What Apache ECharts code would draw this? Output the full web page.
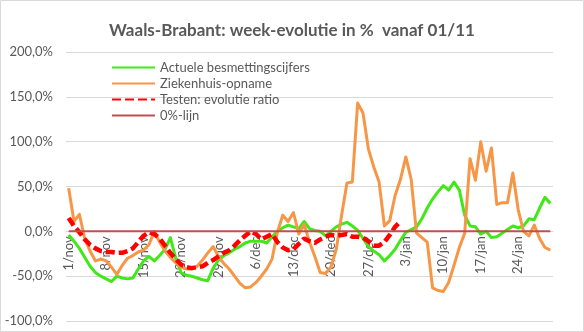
<!DOCTYPE html>
<html>
<head>
<meta charset="utf-8">
<script src="https://cdn.jsdelivr.net/npm/echarts@6/dist/echarts.min.js"></script>
<style>
html,body{margin:0;padding:0;background:#fff;}
#c{width:584px;height:332px;}
</style>
</head>
<body>
<div id="c"></div>
<script>
const categories = [
'1/nov','2/nov','3/nov','4/nov','5/nov','6/nov','7/nov','8/nov','9/nov','10/nov',
'11/nov','12/nov','13/nov','14/nov','15/nov','16/nov','17/nov','18/nov','19/nov','20/nov',
'21/nov','22/nov','23/nov','24/nov','25/nov','26/nov','27/nov','28/nov','29/nov','30/nov',
'1/dec','2/dec','3/dec','4/dec','5/dec','6/dec','7/dec','8/dec','9/dec','10/dec',
'11/dec','12/dec','13/dec','14/dec','15/dec','16/dec','17/dec','18/dec','19/dec','20/dec',
'21/dec','22/dec','23/dec','24/dec','25/dec','26/dec','27/dec','28/dec','29/dec','30/dec','31/dec',
'1/jan','2/jan','3/jan','4/jan','5/jan','6/jan','7/jan','8/jan','9/jan','10/jan',
'11/jan','12/jan','13/jan','14/jan','15/jan','16/jan','17/jan','18/jan','19/jan','20/jan',
'21/jan','22/jan','23/jan','24/jan','25/jan','26/jan','27/jan','28/jan','29/jan','30/jan'
];

const seriesNames = ['Actuele besmettingscijfers','Ziekenhuis-opname','Testen: evolutie ratio','0%-lijn'];

const besmettingen = [
-4,-11,-19,-29,-39,-46,-50,-53,-56,-50,
-52,-53,-52,-42,-33,-28,-33,-27,-20,-7,
-30,-46,-49,-50,-52,-54,-55,-41,-32,-27,
-24,-20,-17,-13,-11,-11,-11,-13,-6,0,
4,7,5,3,11,3,1,0,-5,0,
5,8,10,6,1,-8,-17,-22,-26,-33,-27,
-20,-10,-1,2,5,14,26,36,44,51,
46,55,46,18,6,5,-3,0,-7,-6,
-2,2,6,4,6,14,13,26,38,31
];

const ziekenhuis = [
48,11,19,-8,-22,-33,-31,-33,-40,-48,
-38,-30,-27,-23,-21,-15,0,-12,-22,-29,
-35,-40,-42,-42,-39,-32,-24,-17,-28,-36,
-42,-50,-58,-63,-62,-57,-50,-42,-31,-1,
18,11,21,-3,8,-12,-28,-46,-47,-40,
-20,18,54,55,143,132,92,72,55,6,12,
40,58,83,58,-2,-7,-12,-63,-66,-67,
-57,-38,-18,-2,81,57,100,67,93,30,
32,32,65,24,0,-5,7,-8,-18,-21
];

const testen = [
15,6,-1,-9,-15,-19,-22,-23,-23,-24,
-24,-22,-19,-12,-5,-1,-3,-8,-16,-24,
-31,-37,-40,-41,-40,-39,-35,-32,-28,-24,
-21,-16,-10,-5,0,-3,-9,-6,-3,-12,
-18,-21,-20,-14,-8,-11,-13,-9,-6,-4,
-5,-4,-3,-6,-6,-7,-11,-16,-16,-12,-4,
5,11,null,null,null,null,null,null,null,null,
null,null,null,null,null,null,null,null,null,null,
null,null,null,null,null,null,null,null,null,null
];

const nulLijn = [
0,0,0,0,0,0,0,0,0,0,0,0,0,0,0,0,0,0,0,0,0,0,0,0,0,0,0,0,0,0,
0,0,0,0,0,0,0,0,0,0,0,0,0,0,0,0,0,0,0,0,0,0,0,0,0,0,0,0,0,0,0,
0,0,0,0,0,0,0,0,0,0,0,0,0,0,0,0,0,0,0,0,0,0,0,0,0,0,0,0,0,0
];

const yTicks = {min:-100, max:200, interval:50};

const W = 584, H = 332;
const gridL = 66, gridR = 31, gridT = 52, gridB = 11;
const gridH = H - gridT - gridB;
// x axis sits on the 0% level of the value axis
const zeroOffset = -gridH * (0 - yTicks.min) / (yTicks.max - yTicks.min);

const FONT = 'Lato, "Open Sans", sans-serif';
const chart = echarts.init(document.getElementById('c'), null, {renderer:'canvas'});
chart.setOption({
  animation:false,
  backgroundColor:'#ffffff',
  title:{
    text:'Waals-Brabant: week-evolutie in %  vanaf 01/11',
    left:'center', top:17,
    textStyle:{fontFamily:FONT, fontSize:17, fontWeight:'bold', color:'#595959'}
  },
  legend:{
    orient:'vertical', left:106, top:56,
    itemWidth:43, itemHeight:14, itemGap:3,
    data:seriesNames,
    itemStyle:{opacity:0},
    textStyle:{fontFamily:FONT, fontSize:13, color:'#595959'}
  },
  grid:{left:gridL, right:gridR, top:gridT, bottom:gridB, containLabel:false, outerBoundsMode:'none'},
  xAxis:{
    type:'category', data:categories, boundaryGap:true, position:'bottom',
    offset:zeroOffset,
    axisLine:{show:true, onZero:false, lineStyle:{color:'#D9D9D9', width:1}},
    axisTick:{show:false},
    axisLabel:{interval:6, rotate:90, margin:5, fontFamily:FONT, fontSize:13, color:'#595959'},
    splitLine:{show:false}
  },
  yAxis:{
    type:'value', min:yTicks.min, max:yTicks.max, interval:yTicks.interval,
    axisLine:{show:false}, axisTick:{show:false},
    axisLabel:{margin:13, fontFamily:FONT, fontSize:13, color:'#595959',
      formatter:v=>v.toFixed(1).replace('.',',')+'%'},
    splitLine:{lineStyle:{color:'#D9D9D9', width:1}}
  },
  graphic:[{type:'rect', shape:{x:0.5,y:0.5,width:583,height:331}, style:{fill:'none', stroke:'#D9D9D9', lineWidth:1}, silent:true}],
  series:[
    {name:seriesNames[0], type:'line', data:besmettingen, symbol:'none', showSymbol:false,
     lineStyle:{color:'#40E818', width:3, join:'round'}, itemStyle:{color:'#40E818'}},
    {name:seriesNames[1], type:'line', data:ziekenhuis, symbol:'none', showSymbol:false,
     lineStyle:{color:'#F79646', width:3, join:'round'}, itemStyle:{color:'#F79646'}},
    {name:seriesNames[2], type:'line', data:testen, symbol:'none', showSymbol:false, connectNulls:false,
     lineStyle:{color:'#FF0000', width:4.5, type:[9,4]}, itemStyle:{color:'#FF0000'}},
    {name:seriesNames[3], type:'line', data:nulLijn, symbol:'none', showSymbol:false,
     lineStyle:{color:'#C0504D', width:2}, itemStyle:{color:'#C0504D'}}
  ]
});
</script>
</body>
</html>
